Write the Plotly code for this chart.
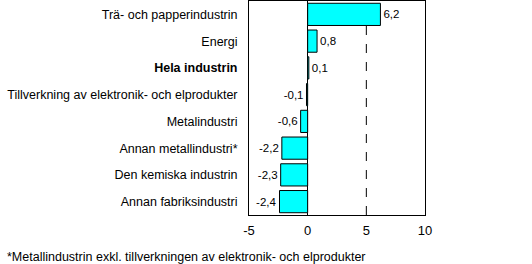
import plotly.graph_objects as go

categories = [
    "Trä- och papperindustrin",
    "Energi",
    "<b>Hela industrin</b>",
    "Tillverkning av elektronik- och elprodukter",
    "Metalindustri",
    "Annan metallindustri*",
    "Den kemiska industrin",
    "Annan fabriksindustri",
]
values = [6.2, 0.8, 0.1, -0.1, -0.6, -2.2, -2.3, -2.4]
value_labels = [f"{v:.1f}".replace(".", ",") for v in values]
x_ticks = [-5, 0, 5, 10]
footnote = "*Metallindustrin exkl. tillverkningen av elektronik- och elprodukter"

FONT = "Liberation Sans, Arial, sans-serif"

fig = go.Figure(
    go.Bar(
        y=categories,
        x=values,
        orientation="h",
        marker=dict(color="#00FFFF", line=dict(color="black", width=1)),
        text=value_labels,
        textposition="outside",
        textfont=dict(family=FONT, size=11.5, color="black"),
        cliponaxis=False,
    )
)

fig.add_shape(
    type="line", xref="x", yref="paper", x0=5, x1=5, y0=0, y1=1,
    line=dict(color="black", width=1, dash="dash"), layer="below",
)

L, R, T, B = 249, 107, 1, 49
W, H = 532, 264
pw, ph = W - L - R, H - T - B

fig.add_annotation(
    text=footnote, xref="paper", yref="paper",
    x=(5 - L) / pw, y=(H - B - 257) / ph,
    xanchor="left", yanchor="middle", showarrow=False,
    font=dict(family=FONT, size=12.5, color="black"),
)

fig.update_layout(
    width=W, height=H,
    margin=dict(l=L, r=R, t=T, b=B),
    paper_bgcolor="white", plot_bgcolor="white",
    bargap=0.17,
    showlegend=False,
    font=dict(family=FONT, size=12, color="black"),
    xaxis=dict(
        range=[-5, 10], tickvals=x_ticks, ticktext=[str(t) for t in x_ticks],
        showgrid=False, zeroline=True, zerolinecolor="black", zerolinewidth=1,
        showline=True, linecolor="black", linewidth=1, mirror=True,
        ticks="", tickfont=dict(family=FONT, size=13, color="black"),
        ticklabelstandoff=3,
    ),
    yaxis=dict(
        autorange="reversed", showgrid=False,
        showline=True, linecolor="black", linewidth=1, mirror=True,
        ticks="", tickfont=dict(family=FONT, size=12.5, color="black"),
        ticklabelstandoff=8,
    ),
)

fig.write_html("out.html")
